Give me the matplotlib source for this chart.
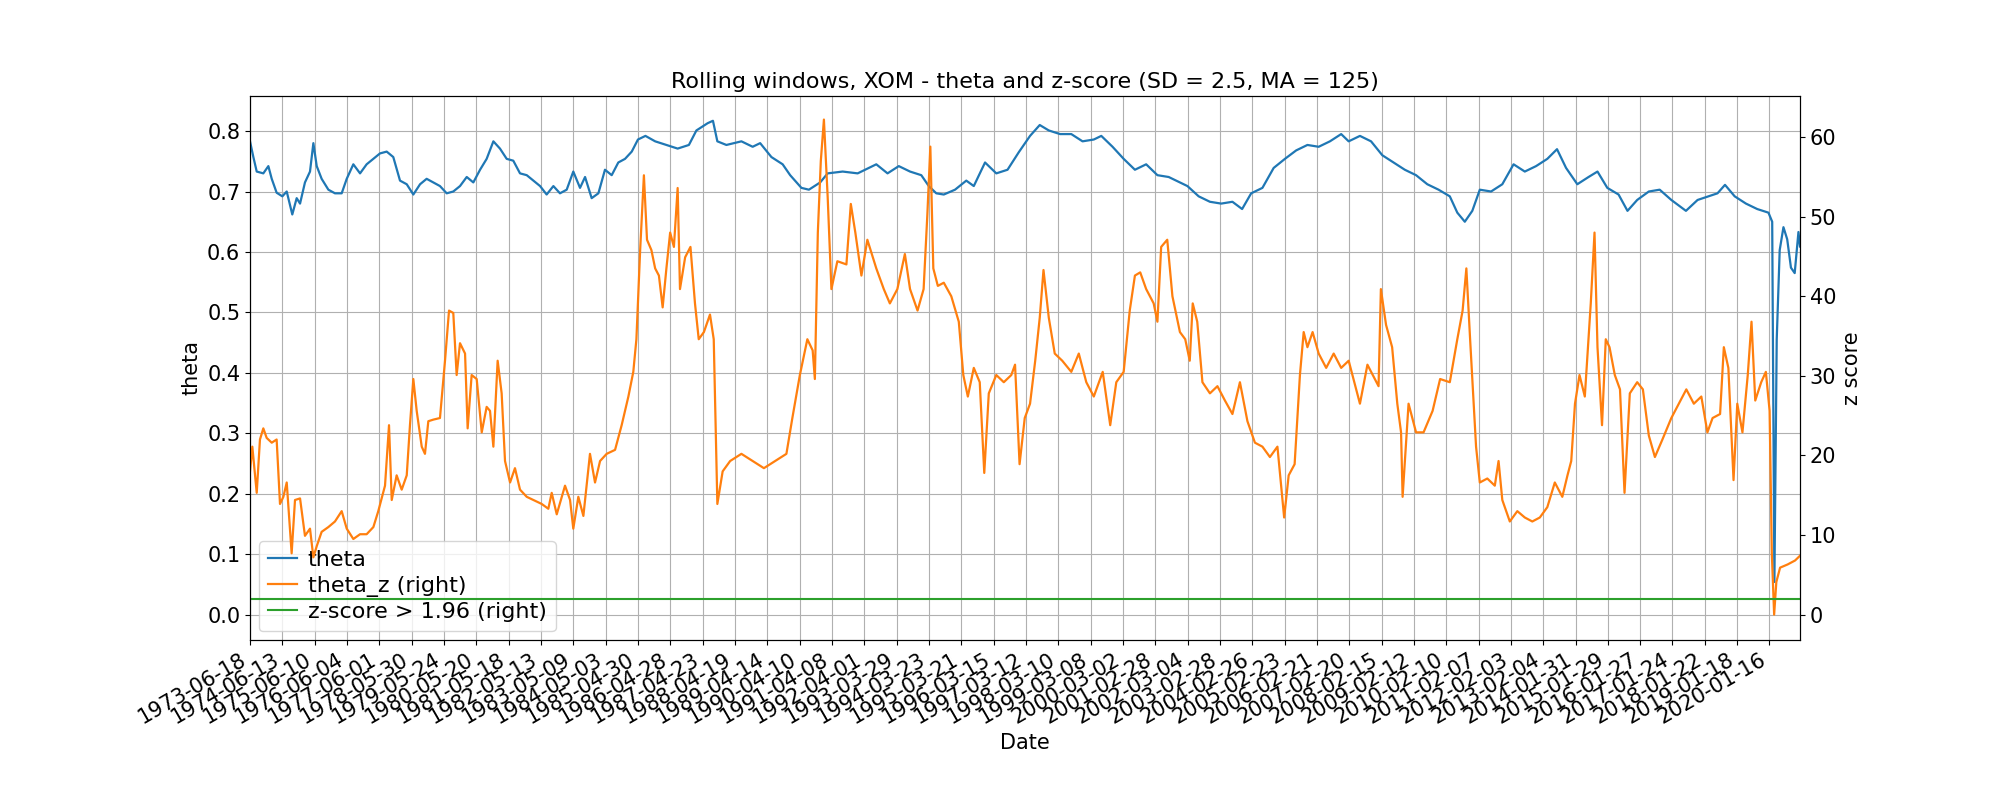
import numpy as np
import matplotlib
matplotlib.use("Agg")
import matplotlib.pyplot as plt

plt.rcParams['font.family'] = ['DejaVu Sans']
plt.rcParams['font.size'] = 15

title = "Rolling windows, XOM - theta and z-score (SD = 2.5, MA = 125)"

tick_labels = [
    "1973-06-18", "1974-06-13", "1975-06-10", "1976-06-04", "1977-06-01", "1978-05-30",
    "1979-05-24", "1980-05-20", "1981-05-18", "1982-05-13", "1983-05-09", "1984-05-03",
    "1985-04-30", "1986-04-28", "1987-04-23", "1988-04-19", "1989-04-14", "1990-04-10",
    "1991-04-08", "1992-04-01", "1993-03-29", "1994-03-23", "1995-03-21", "1996-03-15",
    "1997-03-12", "1998-03-10", "1999-03-08", "2000-03-02", "2001-02-28", "2002-03-04",
    "2003-02-28", "2004-02-26", "2005-02-23", "2006-02-21", "2007-02-20", "2008-02-15",
    "2009-02-12", "2010-02-10", "2011-02-07", "2012-02-03", "2013-02-04", "2014-01-31",
    "2015-01-29", "2016-01-27", "2017-01-24", "2018-01-22", "2019-01-18", "2020-01-16",
]
rows_per_tick = 250
n_rows = 11987

# theta (left axis): row number in the daily series, value
theta_rows = [
    0, 26, 52, 103, 142, 168, 206, 250, 284, 327, 361, 387, 425, 464, 490, 516, 554, 606,
    657, 709, 748, 799, 851, 902, 954, 1005, 1057, 1108, 1160, 1212, 1263, 1315, 1366, 1418,
    1469, 1521, 1572, 1624, 1676, 1727, 1779, 1830, 1882, 1933, 1985, 2036, 2088, 2140, 2191,
    2243, 2294, 2346, 2397, 2449, 2500, 2552, 2591, 2642, 2694, 2745, 2797, 2848, 2900, 2952,
    3000, 3058, 3133, 3220, 3307, 3394, 3452, 3539, 3580, 3614, 3684, 3800, 3887, 3945, 4032,
    4119, 4177, 4264, 4322, 4409, 4467, 4583, 4699, 4786, 4843, 4930, 5017, 5104, 5191, 5249,
    5307, 5365, 5452, 5539, 5597, 5684, 5771, 5858, 5945, 6032, 6107, 6177, 6264, 6351, 6438,
    6525, 6583, 6670, 6756, 6843, 6930, 7017, 7104, 7191, 7249, 7336, 7423, 7510, 7597, 7672,
    7742, 7829, 7916, 8003, 8090, 8177, 8264, 8351, 8438, 8496, 8583, 8669, 8756, 8843, 8930,
    9017, 9104, 9191, 9278, 9336, 9394, 9452, 9510, 9597, 9684, 9771, 9858, 9945, 10032,
    10107, 10177, 10264, 10351, 10420, 10496, 10583, 10652, 10727, 10817, 10901, 10991,
    11104, 11194, 11278, 11348, 11406, 11481, 11568, 11655, 11742, 11771, 11788, 11806,
    11829, 11858, 11887, 11916, 11945, 11974, 11986,
]
theta_vals = [
    0.783, 0.757, 0.733, 0.730, 0.742, 0.721, 0.698, 0.692, 0.700, 0.662, 0.689, 0.680,
    0.715, 0.733, 0.780, 0.742, 0.721, 0.703, 0.697, 0.697, 0.721, 0.745, 0.730, 0.745,
    0.754, 0.763, 0.766, 0.757, 0.718, 0.712, 0.695, 0.712, 0.721, 0.715, 0.709, 0.697,
    0.700, 0.709, 0.724, 0.715, 0.736, 0.754, 0.783, 0.771, 0.754, 0.751, 0.730, 0.727,
    0.718, 0.709, 0.695, 0.709, 0.697, 0.703, 0.733, 0.706, 0.724, 0.689, 0.697, 0.736,
    0.727, 0.748, 0.754, 0.766,
    0.786, 0.792, 0.783, 0.777, 0.771, 0.777, 0.801, 0.813, 0.817, 0.783, 0.777, 0.783,
    0.774, 0.780, 0.757, 0.745, 0.727, 0.706, 0.703, 0.715, 0.730, 0.733, 0.730, 0.739,
    0.745, 0.730, 0.742, 0.733, 0.727, 0.709, 0.697, 0.695, 0.703, 0.718, 0.709, 0.748,
    0.730, 0.736, 0.765, 0.792, 0.810, 0.801, 0.795, 0.795, 0.783, 0.786, 0.792, 0.774,
    0.754, 0.736, 0.745, 0.727, 0.724, 0.715, 0.709, 0.692, 0.683, 0.680, 0.683, 0.671,
    0.697, 0.706, 0.739, 0.754, 0.768, 0.777, 0.774, 0.783, 0.795, 0.783, 0.792, 0.783,
    0.760, 0.748, 0.736, 0.727, 0.712, 0.703, 0.692, 0.665, 0.650, 0.668, 0.703, 0.700,
    0.712, 0.745, 0.733, 0.742, 0.754, 0.770, 0.739, 0.712, 0.724, 0.733, 0.706, 0.695,
    0.668, 0.686, 0.700, 0.703, 0.686, 0.668, 0.686, 0.692, 0.697, 0.711, 0.692, 0.680,
    0.671, 0.665, 0.650, 0.054, 0.455, 0.603, 0.641, 0.621, 0.574, 0.565, 0.633, 0.609,
]

# theta_z (right axis)
z_rows = [
    0, 18, 52, 77, 103, 129, 168, 206, 232, 258, 284, 322, 348, 387, 425, 464, 490, 516,
    554, 606, 657, 709, 748, 799, 851, 902, 954, 992, 1044, 1075, 1096, 1134, 1173, 1212,
    1237, 1263, 1289, 1328, 1353, 1379, 1418, 1469, 1508, 1539, 1572, 1598, 1624, 1663,
    1683, 1714, 1753, 1792, 1830, 1856, 1882, 1915, 1946, 1972, 2011, 2049, 2088, 2140,
    2191, 2256, 2307, 2333, 2372, 2436, 2475, 2500, 2539, 2578, 2629, 2668, 2707, 2758,
    2823, 2874, 2926, 2964, 2988,
    3017, 3046, 3070, 3104, 3133, 3162, 3191, 3220, 3249, 3278, 3307, 3325, 3365, 3406,
    3441, 3470, 3510, 3557, 3586, 3614, 3655, 3713, 3800, 3887, 3974, 4061, 4148, 4194,
    4252, 4310, 4351, 4368, 4391, 4414, 4438, 4467, 4496, 4542, 4612, 4646, 4681, 4728,
    4774, 4843, 4901, 4948, 5006, 5064, 5104, 5162, 5209, 5238, 5261, 5284, 5319, 5365,
    5423, 5481, 5516, 5551, 5597, 5643, 5678, 5713, 5771, 5829, 5887, 5916, 5951, 5991,
    6032, 6072, 6107, 6136, 6177, 6223, 6281, 6351, 6409, 6467, 6525, 6594, 6652, 6699,
    6756, 6803, 6843, 6884, 6930, 6988, 7017, 7046, 7093, 7133, 7191, 7232, 7267, 7290,
    7325, 7365, 7423, 7481, 7539, 7597, 7655, 7713, 7771, 7829, 7887, 7945, 7997, 8032,
    8078, 8119, 8148, 8177, 8217, 8264, 8322, 8380, 8438, 8496, 8583, 8641, 8727, 8745,
    8785, 8832, 8872, 8901, 8913, 8959, 9017, 9075, 9145, 9203, 9278, 9336, 9377, 9406,
    9435, 9481, 9510, 9568, 9626, 9655, 9684, 9742, 9800, 9858, 9916, 9974, 10032, 10090,
    10148, 10188, 10217, 10246, 10281, 10322, 10368, 10397, 10420, 10455, 10484, 10513,
    10554, 10594, 10629, 10670, 10727, 10771, 10817, 10864, 10922, 10991, 11049, 11107,
    11165, 11223, 11270, 11310, 11368, 11397, 11432, 11472, 11501, 11541, 11582, 11611,
    11640, 11686, 11722, 11751, 11768, 11786, 11803, 11832, 11890, 11948, 11986,
]
z_vals = [
    18.0, 21.1, 15.3, 22.0, 23.4, 22.2, 21.6, 22.0, 13.9, 14.8, 16.6, 7.7, 14.4, 14.6,
    9.9, 10.8, 7.2, 8.6, 10.4, 11.0, 11.7, 13.0, 10.8, 9.5, 10.1, 10.1, 11.0, 13.0, 16.2,
    23.8, 14.4, 17.5, 15.7, 17.5, 23.8, 29.6, 25.6, 21.1, 20.2, 24.3, 24.5, 24.7, 31.9,
    38.2, 37.9, 30.1, 34.1, 32.8, 23.4, 30.1, 29.6, 22.9, 26.1, 25.6, 21.1, 31.9, 27.8,
    19.3, 16.6, 18.4, 15.7, 14.8, 14.4, 13.9, 13.3, 15.3, 12.6, 16.2, 14.4, 10.8, 14.8,
    12.4, 20.2, 16.6, 19.3, 20.2, 20.7, 23.8, 27.4, 30.5, 34.6,
    45.8, 55.2, 47.1, 45.8, 43.5, 42.6, 38.6, 43.5, 48.0, 46.2, 53.6, 40.9, 44.9, 46.2,
    39.1, 34.6, 35.5, 37.7, 34.6, 13.9, 18.0, 19.3, 20.2, 19.3, 18.4, 19.3, 20.2, 24.7,
    30.1, 34.6, 33.2, 29.6, 48.0, 57.0, 62.2, 52.5, 40.9, 44.4, 44.0, 51.6, 48.0, 42.6,
    47.1, 43.5, 40.9, 39.1, 40.9, 45.3, 40.9, 38.2, 40.9, 50.3, 58.8, 43.5, 41.3, 41.7,
    40.0, 36.8, 30.1, 27.4, 31.0, 29.2, 17.8, 27.8, 30.1, 29.2, 30.1, 31.4, 18.9, 24.7,
    26.5, 31.9, 37.3, 43.3, 37.3, 32.8, 31.9, 30.5, 32.8, 29.2, 27.4, 30.5, 23.8, 29.2,
    30.5, 38.2, 42.6, 43.0, 40.9, 39.1, 36.8, 46.2, 47.1, 40.0, 35.5, 34.6, 31.9, 39.1,
    36.8, 29.2, 27.8, 28.7, 26.9, 25.2, 29.2, 24.3, 21.6, 21.1, 19.8, 21.1, 12.2, 17.5,
    18.9, 30.1, 35.5, 33.6, 35.5, 32.8, 31.0, 32.8, 31.0, 31.9, 26.5, 31.4, 28.7, 40.9,
    36.4, 33.6, 26.5, 22.9, 14.8, 26.5, 22.9, 22.9, 25.6, 29.6, 29.2, 34.6, 38.2, 43.5,
    34.6, 21.1, 16.6, 17.1, 16.2, 19.3, 14.4, 11.7, 13.0, 12.2, 11.7, 12.2, 13.5, 16.6,
    14.8, 17.5, 19.3, 26.5, 30.1, 27.4, 39.1, 48.0, 33.6, 23.8, 34.6, 33.6,
    30.1, 28.3, 15.3, 27.8, 29.2, 28.3, 22.5, 19.8, 22.0, 24.7, 26.5, 28.3,
    26.5, 27.4, 22.9, 24.7, 25.2, 33.6, 31.0, 16.9, 26.5, 22.9, 30.1, 36.8,
    26.9, 29.2, 30.5, 25.6, 7.7, 0.0, 4.1, 5.9, 6.3, 6.8, 7.4,
]

z_threshold = 1.96

fig = plt.figure(figsize=(20, 8), dpi=100)
ax1 = fig.add_subplot(111)
fig.subplots_adjust(left=0.125, right=0.9, bottom=0.2, top=0.88)

l1, = ax1.plot(theta_rows, theta_vals, color='C0', lw=1.6, label='theta')
ax2 = ax1.twinx()
l2, = ax2.plot(z_rows, z_vals, color='C1', lw=1.6, label='theta_z (right)')
l3 = ax2.axhline(z_threshold, color='C2', lw=1.5, label='z-score > 1.96 (right)')

ax1.set_xlim(0, n_rows - 1)
ax1.set_ylim(-0.042, 0.858)
ax2.set_ylim(-3.19, 65.16)
ax1.set_yticks([0.0, 0.1, 0.2, 0.3, 0.4, 0.5, 0.6, 0.7, 0.8])
ax2.set_yticks([0, 10, 20, 30, 40, 50, 60])

tick_pos = np.arange(len(tick_labels)) * rows_per_tick
ax1.set_xticks(tick_pos)
ax1.set_xticklabels(tick_labels, rotation=30, ha='right')
ax1.grid(True)

ax1.set_title(title, fontsize=16)
ax1.set_xlabel('Date')
ax1.set_ylabel('theta')
ax2.set_ylabel('z score')

ax1.legend(handles=[l1, l2, l3], loc='lower left', fontsize=16,
           handlelength=1.3, labelspacing=0.25, handletextpad=0.5,
           borderaxespad=0.4)

fig.savefig('out.png', dpi=100)
